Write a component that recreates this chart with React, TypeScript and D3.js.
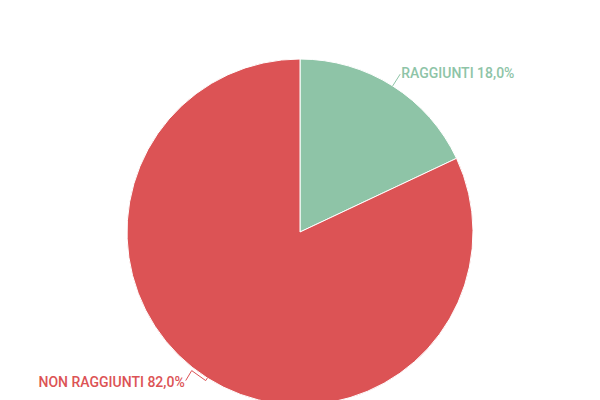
import * as d3 from "d3";
import { useEffect, useRef } from "react";

const categories = ["RAGGIUNTI", "NON RAGGIUNTI"];
const values = [18.0, 82.0];
const colors = ["#8ec4a7", "#dc5355"];

const width = 600;
const height = 400;
const cx = 300;
const cy = 232;
const radius = 173;

export default function App() {
    const ref = useRef<SVGSVGElement>(null);

    useEffect(() => {
        const svg = d3.select(ref.current!);
        svg.selectAll("*").remove();

        const data = categories.map((c, i) => ({ name: c, value: values[i], color: colors[i] }));
        const pie = d3.pie<{ name: string, value: number, color: string }>()
            .value(d => d.value)
            .sort(null);
        const arcs = pie(data);

        const arc = d3.arc<d3.PieArcDatum<any>>()
            .innerRadius(0)
            .outerRadius(radius);

        const g = svg.append("g").attr("transform", `translate(${cx},${cy})`);

        g.selectAll("path.slice")
            .data(arcs)
            .join("path")
            .attr("class", "slice")
            .attr("d", arc)
            .attr("fill", d => d.data.color)
            .attr("stroke", "#fff")
            .attr("stroke-width", 1);

        const pt = (a: number, r: number): [number, number] => [Math.sin(a) * r, -Math.cos(a) * r];
        const line = d3.line();

        arcs.forEach((d, i) => {
            const mid = (d.startAngle + d.endAngle) / 2;
            const edge = pt(mid, radius);
            let points: [number, number][];
            let labelPos: [number, number];
            let anchor: string;
            if (i === 0) {
                const out = pt(mid, radius + 14);
                points = [edge, out];
                labelPos = [out[0] + 1, out[1] + 4];
                anchor = "start";
            } else {
                const out = pt(mid, radius + 3);
                const peak: [number, number] = [out[0] - 14, out[1] - 10];
                const end: [number, number] = [peak[0] - 6, peak[1] + 10];
                points = [edge, out, peak, end];
                labelPos = [end[0] - 1, end[1] + 6];
                anchor = "end";
            }
            g.append("path")
                .attr("d", line(points))
                .attr("fill", "none")
                .attr("stroke", d.data.color)
                .attr("stroke-width", 1);
            g.append("text")
                .attr("x", labelPos[0])
                .attr("y", labelPos[1])
                .attr("text-anchor", anchor)
                .attr("fill", d.data.color)
                .attr("font-family", "Roboto, sans-serif")
                .attr("font-weight", 500)
                .attr("font-size", 14)
                .text(`${d.data.name} ${d3.format(".1f")(d.data.value).replace(".", ",")}%`);
        });
    }, []);

    return (
        <svg
            ref={ref}
            width={width}
            height={height}
            style={{ position: "absolute", left: 0, top: 0, background: "#fff" }}
        />
    );
}
